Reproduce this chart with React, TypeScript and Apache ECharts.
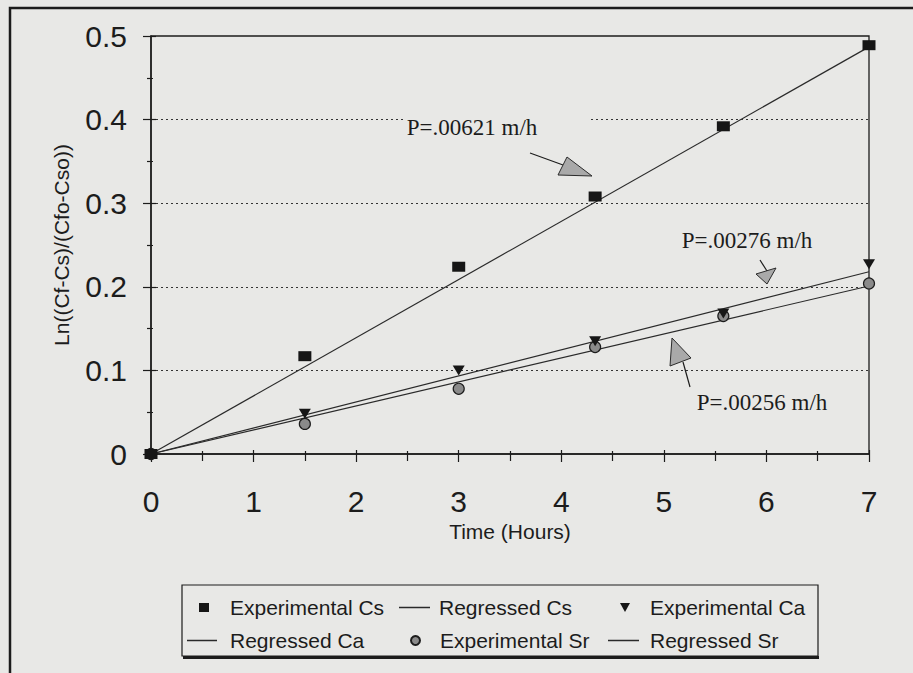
import React, { useEffect, useRef } from "react";
import * as echarts from "echarts";

// ---- data ----
const hours = [0, 1.5, 3.0, 4.33, 5.58, 7.0];
const experimentalCs = [0, 0.117, 0.224, 0.308, 0.392, 0.489];
const experimentalCa = [0, 0.048, 0.1, 0.135, 0.168, 0.227];
const experimentalSr = [0, 0.036, 0.078, 0.128, 0.165, 0.204];

const regressionHours = [0, 7.0];
const regressedCs = [0, 0.487];
const regressedCa = [0, 0.218];
const regressedSr = [0, 0.201];

const seriesNames = [
  "Experimental Cs",
  "Regressed Cs",
  "Experimental Ca",
  "Regressed Ca",
  "Experimental Sr",
  "Regressed Sr",
];
const permeabilityLabels = ["P=.00621 m/h", "P=.00276 m/h", "P=.00256 m/h"];
const xAxisTitle = "Time (Hours)";
const yAxisTitle = "Ln((Cf-Cs)/(Cfo-Cso))";

const SANS = '"Liberation Sans", Arial, Helvetica, sans-serif';
const SERIF = '"Liberation Serif", "Times New Roman", serif';
const INK = "#1c1c1c";
const PAPER = "#e8e8e6";

const pairs = (xs: number[], ys: number[]) => xs.map((x, i) => [x, ys[i]]);

export default function App() {
  const ref = useRef<HTMLDivElement>(null);

  useEffect(() => {
    if (!ref.current) return;
    const chart = echarts.init(ref.current, null, { renderer: "svg" });

    // legend layout: icon left, top, text start, icon, icon width, icon height
    const legendLayout: any[] = [
      { left: 199, top: 597, textStart: 230, icon: "rect", w: 10, h: 9 },
      { left: 399, top: 597, textStart: 439, icon: "rect", w: 31, h: 1.5 },
      { left: 620, top: 597, textStart: 650, icon: "path://M0,0L10,0L5,9Z", w: 10, h: 9 },
      { left: 187, top: 630, textStart: 230, icon: "rect", w: 30, h: 1.5 },
      { left: 410, top: 630, textStart: 439, icon: "circle", w: 9, h: 9 },
      { left: 608, top: 630, textStart: 650, icon: "rect", w: 31, h: 1.5 },
    ];

    const arrowLines = [
      [530, 153, 563, 165],
      [760, 260, 767, 271],
      [690, 387, 683, 362],
    ];
    const arrowHeads = [
      [[567, 157], [558, 175], [592, 176]],
      [[756, 274], [776, 268], [767, 284]],
      [[672, 338], [670, 366], [691, 358]],
    ];
    const labelSpots = [
      [472, 127],
      [747, 240],
      [762, 402],
    ];

    const tickStyle = { color: INK, width: 1.2 };

    const option: any = {
      animation: false,
      backgroundColor: PAPER,
      grid: {
        left: 151,
        right: 44,
        top: 36,
        bottom: 219,
        show: true,
        borderColor: INK,
        borderWidth: 1.3,
        backgroundColor: "transparent",
      },
      xAxis: [
        {
          type: "value",
          min: 0,
          max: 7,
          interval: 1,
          position: "bottom",
          name: xAxisTitle,
          nameLocation: "middle",
          nameGap: 66,
          nameTextStyle: { fontFamily: SANS, fontSize: 21, color: INK },
          axisLine: { show: true, onZero: false, lineStyle: { color: INK, width: 1.5 } },
          axisTick: { show: true, inside: false, length: 8, lineStyle: tickStyle },
          minorTick: { show: true, splitNumber: 2, length: 7, lineStyle: tickStyle },
          axisLabel: { fontFamily: SANS, fontSize: 30, color: INK, margin: 32 },
          splitLine: { show: false },
        },
        {
          type: "value",
          min: 0,
          max: 7,
          interval: 1,
          position: "bottom",
          axisLine: { show: false },
          axisTick: { show: true, inside: true, length: 4, lineStyle: tickStyle },
          minorTick: { show: true, splitNumber: 2, length: 3, lineStyle: tickStyle },
          axisLabel: { show: false },
          splitLine: { show: false },
        },
      ],
      yAxis: [
        {
          type: "value",
          min: 0,
          max: 0.5,
          interval: 0.1,
          position: "left",
          name: yAxisTitle,
          nameLocation: "middle",
          nameGap: 79,
          nameTextStyle: { fontFamily: SANS, fontSize: 21, color: INK },
          axisLine: { show: true, onZero: false, lineStyle: { color: INK, width: 1.5 } },
          axisTick: { show: true, inside: false, length: 8, lineStyle: tickStyle },
          minorTick: { show: true, splitNumber: 2, length: 4, lineStyle: tickStyle },
          axisLabel: { fontFamily: SANS, fontSize: 30, color: INK, margin: 24 },
          splitLine: {
            show: true,
            lineStyle: {
              color: ["transparent", "#333", "#333", "#333", "#333", "transparent"],
              type: [2, 3],
              width: 1.2,
            },
          },
        },
        {
          type: "value",
          min: 0,
          max: 0.5,
          interval: 0.1,
          position: "left",
          axisLine: { show: false },
          axisTick: { show: true, inside: true, length: 5, lineStyle: tickStyle },
          minorTick: { show: true, splitNumber: 2, length: 2, lineStyle: tickStyle },
          axisLabel: { show: false },
          splitLine: { show: false },
        },
      ],
      legend: seriesNames.map((name, i) => {
        const L = legendLayout[i];
        return {
          data: [{ name, icon: L.icon }],
          left: L.left,
          top: L.top,
          orient: "horizontal",
          itemWidth: L.w,
          itemHeight: L.h,
          itemGap: 0,
          padding: 0,
          selectedMode: false,
          textStyle: {
            fontFamily: SANS,
            fontSize: 21,
            color: INK,
            padding: [0, 0, 0, L.textStart - (L.left + L.w + 5)],
          },
        };
      }),
      series: [
        {
          name: seriesNames[1],
          type: "line",
          data: pairs(regressionHours, regressedCs),
          symbol: "none",
          showSymbol: false,
          lineStyle: { color: "#2a2a2a", width: 1.2 },
          itemStyle: { color: "#2a2a2a" },
          z: 2,
        },
        {
          name: seriesNames[3],
          type: "line",
          data: pairs(regressionHours, regressedCa),
          symbol: "none",
          showSymbol: false,
          lineStyle: { color: "#2a2a2a", width: 1.2 },
          itemStyle: { color: "#2a2a2a" },
          z: 2,
        },
        {
          name: seriesNames[5],
          type: "line",
          data: pairs(regressionHours, regressedSr),
          symbol: "none",
          showSymbol: false,
          lineStyle: { color: "#2a2a2a", width: 1.2 },
          itemStyle: { color: "#2a2a2a" },
          z: 2,
        },
        {
          name: seriesNames[4],
          type: "scatter",
          data: pairs(hours, experimentalSr),
          symbol: "circle",
          symbolSize: 11,
          itemStyle: { color: "#8a8a8a", borderColor: INK, borderWidth: 1.2, opacity: 1 },
          z: 3,
        },
        {
          name: seriesNames[2],
          type: "scatter",
          data: pairs(hours, experimentalCa),
          symbol: "triangle",
          symbolRotate: 180,
          symbolSize: [12, 10],
          itemStyle: { color: "#161616", opacity: 1 },
          z: 4,
        },
        {
          name: seriesNames[0],
          type: "scatter",
          data: pairs(hours, experimentalCs),
          symbol: "rect",
          symbolSize: [13, 10],
          itemStyle: { color: "#161616", opacity: 1 },
          z: 5,
        },
      ],
      graphic: [
        {
          type: "rect",
          shape: { x: 10, y: 8, width: 1000, height: 1000 },
          style: { fill: "none", stroke: INK, lineWidth: 2.5 },
          silent: true,
        },
        {
          type: "rect",
          shape: { x: 182, y: 585, width: 636, height: 71 },
          style: { fill: "none", stroke: INK, lineWidth: 1.2 },
          silent: true,
        },
        {
          type: "line",
          shape: { x1: 183, y1: 657.5, x2: 819, y2: 657.5 },
          style: { stroke: INK, lineWidth: 3 },
          silent: true,
        },
        {
          type: "rect",
          shape: { x: 405, y: 110, width: 183, height: 32 },
          style: { fill: PAPER, stroke: "none" },
          silent: true,
          z: 10,
        },
        ...arrowLines.map((l) => ({
          type: "line",
          shape: { x1: l[0], y1: l[1], x2: l[2], y2: l[3] },
          style: { stroke: INK, lineWidth: 1.2 },
          silent: true,
          z: 11,
        })),
        ...arrowHeads.map((pts) => ({
          type: "polygon",
          shape: { points: pts },
          style: { fill: "#a9a9a9", stroke: "#2a2a2a", lineWidth: 1 },
          silent: true,
          z: 11,
        })),
        ...permeabilityLabels.map((t, i) => ({
          type: "text",
          x: labelSpots[i][0],
          y: labelSpots[i][1],
          style: {
            text: t,
            fontFamily: SERIF,
            fontSize: 23,
            fill: INK,
            textAlign: "center",
            textVerticalAlign: "middle",
          },
          silent: true,
          z: 12,
        })),
      ],
    };

    chart.setOption(option);
    return () => chart.dispose();
  }, []);

  return (
    <div
      ref={ref}
      style={{ position: "fixed", left: 0, top: 0, width: 913, height: 673, background: PAPER }}
    />
  );
}
